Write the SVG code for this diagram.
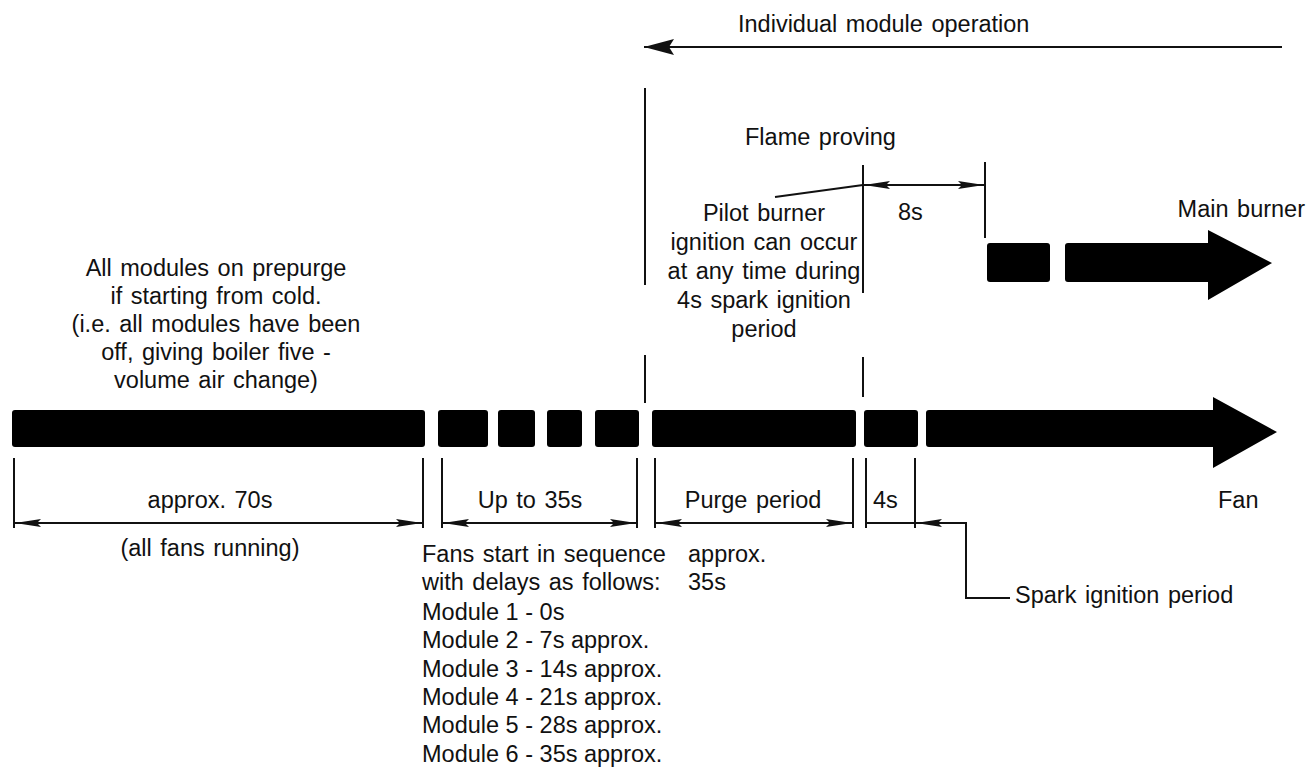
<svg xmlns="http://www.w3.org/2000/svg" width="1311" height="769" viewBox="0 0 1311 769">
<defs>
<style>
text{font-family:"Liberation Sans",Arial,sans-serif;font-size:23.5px;word-spacing:2px;fill:#111}
.c{text-anchor:middle}
.e{text-anchor:end}
.m{word-spacing:0}
.ln{stroke:#111;stroke-width:2;fill:none}
.bar{fill:#000}
</style>
<marker id="ah" viewBox="0 0 26 10" refX="26" refY="5" markerWidth="26" markerHeight="10" markerUnits="userSpaceOnUse" orient="auto-start-reverse"><path d="M0,1 L26,5 L0,9 L4,5 Z" fill="#111"/></marker>
<marker id="ahb" viewBox="0 0 30 16" refX="30" refY="8" markerWidth="30" markerHeight="16" markerUnits="userSpaceOnUse" orient="auto"><path d="M0,0 L30,8 L0,16 L5,8 Z" fill="#111"/></marker>
</defs>
<rect width="1311" height="769" fill="#fff"/>

<g id="fan-bar">
<rect class="bar" x="12" y="410" width="413" height="37" rx="3"/>
<rect class="bar" x="438" y="410" width="50" height="37" rx="3"/>
<rect class="bar" x="498" y="410" width="37" height="37" rx="3"/>
<rect class="bar" x="547" y="410" width="35" height="37" rx="3"/>
<rect class="bar" x="595" y="410" width="44" height="37" rx="3"/>
<rect class="bar" x="652" y="410" width="204" height="37" rx="3"/>
<rect class="bar" x="864" y="410" width="54" height="37" rx="3"/>
<path class="bar" d="M929,410 L1213,410 L1213,397 L1277,432 L1213,468 L1213,447 L929,447 Q926,447 926,444 L926,413 Q926,410 929,410 Z"/>
<text x="1218" y="508">Fan</text>
</g>

<g id="main-burner">
<rect class="bar" x="987" y="243" width="63" height="39" rx="3"/>
<path class="bar" d="M1068,243 L1208,243 L1208,230 L1272,263 L1208,300 L1208,282 L1068,282 Q1065,282 1065,279 L1065,246 Q1065,243 1068,243 Z"/>
<text class="e" x="1305" y="217">Main burner</text>
</g>

<g id="connectors">
<line class="ln" x1="1282" y1="47" x2="644" y2="47" marker-end="url(#ahb)"/>
<line class="ln" x1="645" y1="88" x2="645" y2="285"/>
<line class="ln" x1="645" y1="355" x2="645" y2="403"/>
<line class="ln" x1="863" y1="165" x2="863" y2="293"/>
<line class="ln" x1="863" y1="357" x2="863" y2="397"/>
<line class="ln" x1="985" y1="162" x2="985" y2="238"/>
<line class="ln" x1="864" y1="185" x2="984" y2="185" marker-start="url(#ah)" marker-end="url(#ah)"/>
<line class="ln" x1="775" y1="197" x2="863" y2="185"/>

<line class="ln" x1="14" y1="458" x2="14" y2="528"/>
<line class="ln" x1="423" y1="458" x2="423" y2="528"/>
<line class="ln" x1="442" y1="458" x2="442" y2="528"/>
<line class="ln" x1="637" y1="458" x2="637" y2="528"/>
<line class="ln" x1="655" y1="458" x2="655" y2="528"/>
<line class="ln" x1="853" y1="458" x2="853" y2="528"/>
<line class="ln" x1="866" y1="458" x2="866" y2="528"/>
<line class="ln" x1="915" y1="458" x2="915" y2="528"/>
<line class="ln" x1="15" y1="523" x2="422" y2="523" marker-start="url(#ah)" marker-end="url(#ah)"/>
<line class="ln" x1="443" y1="523" x2="636" y2="523" marker-start="url(#ah)" marker-end="url(#ah)"/>
<line class="ln" x1="656" y1="523" x2="852" y2="523" marker-start="url(#ah)" marker-end="url(#ah)"/>
<line class="ln" x1="866" y1="523" x2="915" y2="523"/>
<polyline class="ln" points="1010,598 966,598 966,523 943,523"/>
<line class="ln" x1="945" y1="523" x2="916" y2="523" marker-end="url(#ah)"/>
</g>

<g id="labels">
<text x="738" y="32">Individual module operation</text>
<text x="745" y="145">Flame proving</text>
<text x="898" y="220">8s</text>
<text class="c" x="764" y="221">Pilot burner</text>
<text class="c" x="764" y="250">ignition can occur</text>
<text class="c" x="764" y="279">at any time during</text>
<text class="c" x="764" y="308">4s spark ignition</text>
<text class="c" x="764" y="337">period</text>
<text class="c" x="216" y="276">All modules on prepurge</text>
<text class="c" x="216" y="304">if starting from cold.</text>
<text class="c" x="216" y="332">(i.e. all modules have been</text>
<text class="c" x="216" y="360">off, giving boiler five -</text>
<text class="c" x="216" y="388">volume air change)</text>
<text class="c" x="210" y="508">approx. 70s</text>
<text class="c" x="210" y="556">(all fans running)</text>
<text class="c" x="530" y="508">Up to 35s</text>
<text class="c" x="753" y="508">Purge period</text>
<text x="873" y="508">4s</text>
<text x="422" y="562">Fans start in sequence</text>
<text x="422" y="590">with delays as follows:</text>
<text class="m" x="422" y="620">Module 1 - 0s</text>
<text class="m" x="422" y="648">Module 2 - 7s approx.</text>
<text class="m" x="422" y="677">Module 3 - 14s approx.</text>
<text class="m" x="422" y="705">Module 4 - 21s approx.</text>
<text class="m" x="422" y="733">Module 5 - 28s approx.</text>
<text class="m" x="422" y="762">Module 6 - 35s approx.</text>
<text x="688" y="562">approx.</text>
<text x="688" y="590">35s</text>
<text x="1015" y="603">Spark ignition period</text>
</g>
</svg>
